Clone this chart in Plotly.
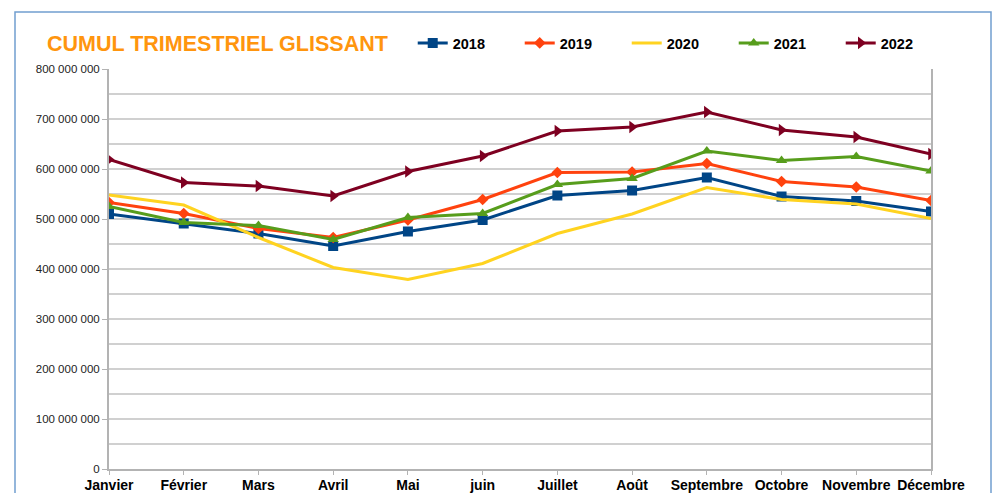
import plotly.graph_objects as go

# Data
mois = ["Janvier", "Février", "Mars", "Avril", "Mai", "juin", "Juillet",
        "Août", "Septembre", "Octobre", "Novembre", "Décembre"]

serie_2018 = [510e6, 491e6, 471e6, 446e6, 475e6, 498e6, 547e6, 557e6, 583e6, 545e6, 536e6, 515e6]
serie_2019 = [533e6, 511e6, 481e6, 463e6, 498e6, 539e6, 593e6, 594e6, 611e6, 575e6, 564e6, 537e6]
serie_2020 = [548e6, 528e6, 463e6, 403e6, 379e6, 411e6, 471e6, 510e6, 563e6, 539e6, 530e6, 501e6]
serie_2021 = [525e6, 493e6, 487e6, 459e6, 503e6, 511e6, 569e6, 581e6, 636e6, 617e6, 625e6, 596e6]
serie_2022 = [619e6, 573e6, 566e6, 546e6, 595e6, 626e6, 676e6, 684e6, 714e6, 678e6, 664e6, 630e6]

series = [
    ("2018", serie_2018, "#004586", "square", 10),
    ("2019", serie_2019, "#ff420e", "diamond", 9),
    ("2020", serie_2020, "#ffd320", None, 0),
    ("2021", serie_2021, "#579d1c", "triangle-up", 10),
    ("2022", serie_2022, "#7e0021", "triangle-right", 11),
]

FONT = "Liberation Sans, Arial, sans-serif"

fig = go.Figure()
for name, vals, color, symbol, size in series:
    fig.add_trace(
        go.Scatter(
            x=list(range(len(mois))),
            y=vals,
            name=f"<b>{name}</b>",
            mode="lines+markers" if symbol else "lines",
            line=dict(color=color, width=3),
            marker=dict(symbol=symbol or "circle", size=size, color=color),
        )
    )

fig.update_layout(
    width=993,
    height=493,
    margin=dict(l=109, r=62, t=69, b=24),
    paper_bgcolor="white",
    plot_bgcolor="white",
    separators=", ",
    font=dict(family=FONT, color="#000000"),
    title=dict(
        text="<b>CUMUL TRIMESTRIEL GLISSANT</b>",
        font=dict(size=21.5, color="#ff950e", family=FONT),
        x=47 / 993,
        xanchor="left",
        xref="container",
        y=1 - 43 / 493,
        yanchor="middle",
        yref="container",
    ),
    legend=dict(
        orientation="h",
        x=0.3695,
        xanchor="left",
        y=1.065,
        yanchor="middle",
        font=dict(size=14.5, family=FONT),
        entrywidth=62,
        entrywidthmode="pixels",
        bgcolor="rgba(0,0,0,0)",
    ),
    showlegend=True,
)

fig.update_xaxes(
    range=[0, 11],
    tickmode="array",
    tickvals=list(range(len(mois))),
    ticktext=[f"<b>{m}</b>" for m in mois],
    tickfont=dict(size=14, color="#000000"),
    ticklabelstandoff=-2,
    showgrid=False,
    showline=True,
    linecolor="#b3b3b3",
    linewidth=2,
    ticks="outside",
    ticklen=4,
    tickcolor="#b3b3b3",
    zeroline=False,
    automargin=False,
)
fig.update_yaxes(
    range=[0, 800e6],
    dtick=100e6,
    tickformat=",d",
    tickfont=dict(size=11.5, color="#222222"),
    showgrid=True,
    gridcolor="#d0d0d0",
    gridwidth=1.5,
    minor=dict(dtick=50e6, showgrid=True, gridcolor="#d0d0d0", gridwidth=1.5),
    showline=True,
    linecolor="#b3b3b3",
    linewidth=2,
    mirror=True,
    ticks="outside",
    ticklen=5,
    tickcolor="#b3b3b3",
    zeroline=False,
    automargin=False,
)

# outer chart frame
fig.add_shape(
    type="rect",
    xref="paper",
    yref="paper",
    x0=(15 - 109) / 822,
    x1=(991 - 109) / 822,
    y0=(469 - 520) / 400,
    y1=(469 - 12) / 400,
    line=dict(color="#729fcf", width=1.5),
    layer="below",
)

# drop the default page margin so the figure sits at the window origin
fig.write_html(
    "out.html",
    config={"displayModeBar": False},
    post_script="document.body.style.margin='0';document.body.style.overflow='hidden';",
)
